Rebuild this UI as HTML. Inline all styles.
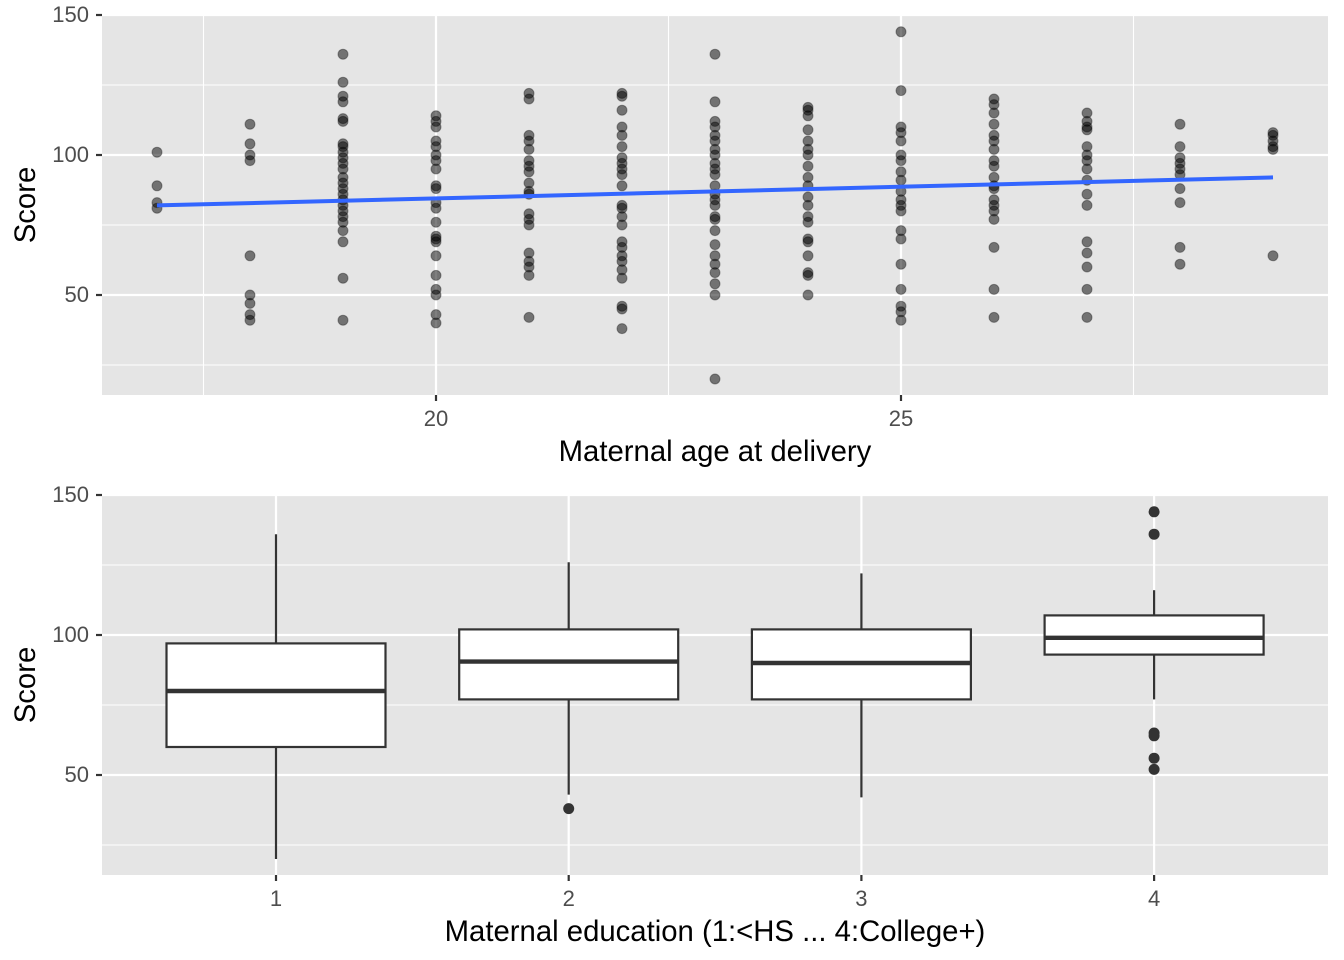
<!DOCTYPE html>
<html><head><meta charset="utf-8"><style>
body{margin:0;background:#fff;}
svg{display:block;font-family:"Liberation Sans",Arial,sans-serif;}
</style></head><body>
<svg id="c" width="1344" height="960"></svg>
<script>
const ages=[17,18,19,20,21,22,23,24,25,26,27,28,29];
const scoresByAge=[
[101,89,83,81],
[111,104,100,98,64,50,47,43,41],
[136,126,121,119,113,112,104,103,101,99,97,95,92,90,88,86,84,82,80,78,76,73,69,56,41],
[114,112,110,105,103,100,98,95,89,88,83,81,76,71,70,69,64,57,52,50,43,40],
[122,120,107,105,102,98,96,94,90,87,86,79,77,75,65,62,60,57,42],
[122,121,116,110,107,103,99,97,95,93,89,82,81,78,75,69,67,64,62,59,56,46,45,38],
[136,119,112,110,107,105,102,100,97,95,93,89,86,84,82,78,77,73,68,64,61,58,54,50,20],
[117,116,114,109,105,102,100,96,92,89,85,82,78,76,70,69,64,58,57,50],
[144,123,110,108,105,100,98,94,91,87,84,82,80,73,70,61,52,46,44,41],
[120,118,115,111,107,105,102,98,96,92,89,88,84,82,80,77,67,52,42],
[115,112,110,109,103,100,98,95,91,86,82,69,65,60,52,42],
[111,103,99,97,95,93,88,83,67,61],
[108,107,105,103,102,64]];
const fitX=[17,29];
const fitY=[82,92];
const eduCats=["1","2","3","4"];
const boxLow=[20,43,42,77];
const boxQ1=[60,77,77,93];
const boxMed=[80,90.5,90,99];
const boxQ3=[97,102,102,107];
const boxHigh=[136,126,122,116];
const outliers=[[],[38],[],[144,136,65,64,56,52]];
const yTicks=[50,100,150];
const xTicksTop=[20,25];

const svg=document.getElementById('c');
const NS='http://www.w3.org/2000/svg';
function mk(tag,at,parent){const e=document.createElementNS(NS,tag);for(const k in at)e.setAttribute(k,at[k]);(parent||svg).appendChild(e);return e;}
const L=102,R=1328;
function yTop(v){return 15+(150-v)*2.8;}
function yBot(v){return 495+(150-v)*2.8;}
function xAge(a){return 436+(a-20)*93;}
function xCat(i){return 276+i*292.7;}

function panel(top,bot,yf,name){
  const g=mk('g',{});
  
  
  mk('rect',{x:L,y:top,width:R-L,height:bot-top,fill:'#E5E5E5'},g);
  [25,75,125].forEach(v=>mk('line',{x1:L,x2:R,y1:yf(v),y2:yf(v),stroke:'#fff','stroke-width':1.1},g));
  yTicks.forEach(v=>{
    mk('line',{x1:L,x2:R,y1:yf(v),y2:yf(v),stroke:'#fff','stroke-width':2.2},g);
    mk('line',{x1:L-6,x2:L,y1:yf(v),y2:yf(v),stroke:'#333','stroke-width':2.2});
    const t=mk('text',{x:L-13,y:yf(v)+7,'text-anchor':'end','font-size':22,fill:'#4D4D4D'});
    t.textContent=v;
    
    
  });
  return g;
}
const g1=panel(14,395,yTop,'scatter-panel');
[17.5,22.5,27.5].forEach(a=>mk('line',{x1:xAge(a),x2:xAge(a),y1:14,y2:395,stroke:'#fff','stroke-width':1.1},g1));
xTicksTop.forEach(a=>{
  mk('line',{x1:xAge(a),x2:xAge(a),y1:14,y2:395,stroke:'#fff','stroke-width':2.2},g1);
  mk('line',{x1:xAge(a),x2:xAge(a),y1:395,y2:401,stroke:'#333','stroke-width':2.2});
  const t=mk('text',{x:xAge(a),y:426,'text-anchor':'middle','font-size':22,fill:'#4D4D4D'});
  t.textContent=a;
  
  
});
ages.forEach((a,i)=>scoresByAge[i].forEach(s=>{
  const c=mk('circle',{cx:xAge(a),cy:yTop(s),r:5,fill:'rgba(0,0,0,0.5)',stroke:'rgba(0,0,0,0.35)','stroke-width':1});
  
  
}));
const fl=mk('line',{x1:xAge(fitX[0]),y1:yTop(fitY[0]),x2:xAge(fitX[1]),y2:yTop(fitY[1]),stroke:'#3366FF','stroke-width':4});


const g2=panel(494,875,yBot,'boxplot-panel');
eduCats.forEach((c,i)=>{
  mk('line',{x1:xCat(i),x2:xCat(i),y1:494,y2:875,stroke:'#fff','stroke-width':2.2},g2);
  mk('line',{x1:xCat(i),x2:xCat(i),y1:875,y2:881,stroke:'#333','stroke-width':2.2});
  const t=mk('text',{x:xCat(i),y:906,'text-anchor':'middle','font-size':22,fill:'#4D4D4D'});
  t.textContent=c;
  
  
  const b=mk('g',{});
  
  
  const x=xCat(i),hw=109.5;
  mk('line',{x1:x,x2:x,y1:yBot(boxHigh[i]),y2:yBot(boxQ3[i]),stroke:'#333','stroke-width':2.2},b);
  mk('line',{x1:x,x2:x,y1:yBot(boxQ1[i]),y2:yBot(boxLow[i]),stroke:'#333','stroke-width':2.2},b);
  mk('rect',{x:x-hw,y:yBot(boxQ3[i]),width:2*hw,height:yBot(boxQ1[i])-yBot(boxQ3[i]),fill:'#fff',stroke:'#333','stroke-width':2.2},b);
  mk('line',{x1:x-hw,x2:x+hw,y1:yBot(boxMed[i]),y2:yBot(boxMed[i]),stroke:'#333','stroke-width':4.4},b);
  outliers[i].forEach(o=>{
    const p=mk('circle',{cx:x,cy:yBot(o),r:5.5,fill:'#333'},b);
    
    
  });
});
function txt(s,at,name){const t=mk('text',at);t.textContent=s;}
txt('Maternal age at delivery',{x:715,y:461,'text-anchor':'middle','font-size':29.3,fill:'#000'},'x-axis-title-top');
txt('Maternal education (1:<HS ... 4:College+)',{x:715,y:941,'text-anchor':'middle','font-size':29.3,fill:'#000'},'x-axis-title-bottom');
txt('Score',{x:0,y:0,'text-anchor':'middle','font-size':29.3,fill:'#000',transform:'translate(35,205) rotate(-90)'},'y-axis-title-top');
txt('Score',{x:0,y:0,'text-anchor':'middle','font-size':29.3,fill:'#000',transform:'translate(35,685) rotate(-90)'},'y-axis-title-bottom');
</script>
</body></html>
